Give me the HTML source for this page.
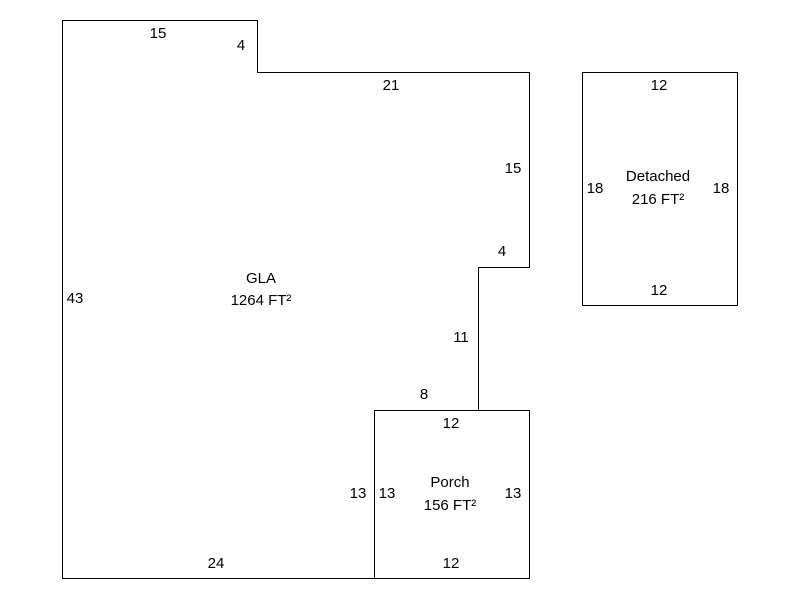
<!DOCTYPE html>
<html><head><meta charset="utf-8"><style>
html,body{margin:0;padding:0;background:#fff;}
svg{display:block;}
text{font-family:"Liberation Sans",Arial,sans-serif;font-size:15px;fill:#000;text-anchor:middle;}
</style></head><body>
<svg width="800" height="600" viewBox="0 0 800 600">
<g fill="none" stroke="#000" stroke-width="1">
<polygon points="62.5,20.5 257.5,20.5 257.5,72.5 529.5,72.5 529.5,267.5 478.5,267.5 478.5,410.5 374.5,410.5 374.5,578.5 62.5,578.5"/>
<rect x="374.5" y="410.5" width="155" height="168"/>
<rect x="582.5" y="72.5" width="155" height="233"/>
</g>
<g>
<text x="158" y="38">15</text>
<text x="241" y="50">4</text>
<text x="391" y="90">21</text>
<text x="513" y="173">15</text>
<text x="502" y="256">4</text>
<text x="261" y="283">GLA</text>
<text x="261" y="305">1264 FT²</text>
<text x="75" y="303">43</text>
<text x="461" y="342">11</text>
<text x="424" y="399">8</text>
<text x="451" y="428">12</text>
<text x="358" y="498">13</text>
<text x="387" y="498">13</text>
<text x="450" y="487">Porch</text>
<text x="450" y="510">156 FT²</text>
<text x="513" y="498">13</text>
<text x="216" y="568">24</text>
<text x="451" y="568">12</text>
<text x="659" y="90">12</text>
<text x="595" y="193">18</text>
<text x="658" y="181">Detached</text>
<text x="658" y="204">216 FT²</text>
<text x="721" y="193">18</text>
<text x="659" y="295">12</text>
</g>
</svg>
</body></html>
